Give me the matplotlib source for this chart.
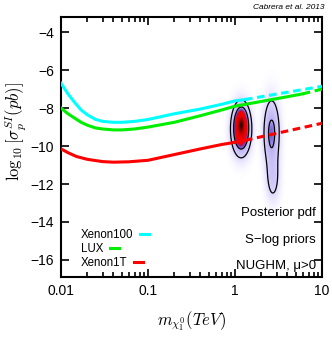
import matplotlib

matplotlib.use("Agg")
import matplotlib.pyplot as plt
import numpy as np
from matplotlib.colors import LinearSegmentedColormap

#####################################################
# PARAMETERS
#####################################################

plt.rcParams["font.family"] = ["Liberation Sans", "DejaVu Sans"]
plt.rcParams["mathtext.fontset"] = "cm"

# direct detection limits (mass in TeV, log10 sigma in pb)
xenon100_mass = [0.01, 0.012, 0.014, 0.017, 0.02, 0.025, 0.03, 0.04, 0.05, 0.07,
                 0.1, 0.2, 0.4, 0.7, 1.0, 1.3]
xenon100_sig = [-6.7, -7.25, -7.65, -8.1, -8.35, -8.6, -8.7, -8.75, -8.75, -8.7,
                -8.6, -8.3, -8.05, -7.8, -7.62, -7.55]
xenon100_proj_mass = [1.3, 10.0]
xenon100_proj_sig = [-7.55, -6.85]

lux_mass = [0.01, 0.012, 0.014, 0.017, 0.02, 0.025, 0.03, 0.04, 0.05, 0.07,
            0.1, 0.2, 0.4, 0.7, 1.0, 2.0, 4.0, 6.0]
lux_sig = [-8.0, -8.3, -8.5, -8.75, -8.9, -9.05, -9.1, -9.15, -9.15, -9.1,
           -9.0, -8.75, -8.4, -8.1, -7.9, -7.65, -7.4, -7.25]
lux_proj_mass = [6.0, 10.0]
lux_proj_sig = [-7.25, -7.0]

xenon1t_mass = [0.01, 0.012, 0.015, 0.02, 0.03, 0.04, 0.06, 0.1, 0.2, 0.4,
                0.7, 1.0, 1.3]
xenon1t_sig = [-10.15, -10.35, -10.55, -10.7, -10.82, -10.85, -10.83, -10.75,
               -10.45, -10.15, -9.92, -9.8, -9.7]
xenon1t_proj_mass = [1.3, 10.0]
xenon1t_proj_sig = [-9.7, -8.8]

# posterior pdf, described as gaussian lumps in (log10 m, log10 sigma)
blob_logm = [0.07, 0.075, 0.42, 0.435]
blob_logsig = [-9.1, -8.7, -9.3, -11.7]
blob_wm = [0.063, 0.035, 0.057, 0.05]
blob_ws = [0.78, 0.4, 1.1, 0.8]
blob_amp = [0.75, 0.3, 0.36, 0.17]
contour_levels = [0.112, 0.3]

pdf_cmap = LinearSegmentedColormap.from_list(
    "pdf",
    [
        (0.0, "#ffffff"),
        (0.05, "#f0edff"),
        (0.12, "#dcd6fb"),
        (0.3, "#bdb1f2"),
        (0.36, "#7a60d8"),
        (0.42, "#b02070"),
        (0.48, "#ff0000"),
        (0.75, "#e00000"),
        (0.9, "#900000"),
        (1.0, "#200000"),
    ],
)

#####################################################
# FUNCTIONS
#####################################################


def posterior_grid():
    lm = np.linspace(-0.4, 0.8, 300)
    ls = np.linspace(-14.0, -6.0, 400)
    LM, LS = np.meshgrid(lm, ls)
    pdf = np.zeros_like(LM)
    for m0, s0, wm, ws, a in zip(blob_logm, blob_logsig, blob_wm, blob_ws, blob_amp):
        pdf += a * np.exp(-0.5 * ((LM - m0) / wm) ** 2 - 0.5 * ((LS - s0) / ws) ** 2)
    return 10**LM, LS, pdf


def plot_limits():
    fig = plt.figure(figsize=(3.32, 3.38), dpi=100)
    ax = fig.add_axes([0.184, 0.1805, 0.786, 0.7692])

    M, S, pdf = posterior_grid()
    ax.pcolormesh(M, S, pdf, cmap=pdf_cmap, vmin=0, vmax=1, shading="gouraud", zorder=1)
    ax.contour(M, S, pdf, levels=contour_levels, colors="black", linewidths=0.9, zorder=2)

    lw = 2.2
    dash = (0, (2.5, 1.5))
    ax.plot(xenon100_mass, xenon100_sig, color="#00ffff", lw=lw, label="Xenon100", zorder=3)
    ax.plot(xenon100_proj_mass, xenon100_proj_sig, color="#00ffff", lw=lw, ls=dash, zorder=3)
    ax.plot(lux_mass, lux_sig, color="#00ee00", lw=lw, label="LUX", zorder=3)
    ax.plot(lux_proj_mass, lux_proj_sig, color="#00ee00", lw=lw, ls=dash, zorder=3)
    ax.plot(xenon1t_mass, xenon1t_sig, color="#ff0000", lw=lw, label="Xenon1T", zorder=3)
    ax.plot(xenon1t_proj_mass, xenon1t_proj_sig, color="#ff0000", lw=lw, ls=dash, zorder=3)

    # format axes
    ax.set_xscale("log")
    ax.set_xlim(0.01, 10)
    ax.set_ylim(-16.9, -3.2)
    ax.set_yticks([-16, -14, -12, -10, -8, -6, -4])
    ax.set_xticks([0.01, 0.1, 1, 10])
    ax.set_xticklabels(["0.01", "0.1", "1", "10"])
    ax.tick_params(which="both", direction="in", top=True, right=True, labelsize=10, width=1.2)
    ax.tick_params(which="major", length=6, pad=5)
    ax.tick_params(which="minor", length=3.5)
    ax.tick_params(axis="y", which="minor", left=False, right=False)
    for sp in ax.spines.values():
        sp.set_linewidth(1.5)

    ax.set_xlabel(r"$m_{\chi_1^0}(TeV)$", fontsize=12, labelpad=8)
    ax.set_ylabel(r"$\log_{10}[\sigma_p^{SI}(pb)]$", fontsize=12)
    ax.yaxis.set_label_coords(-0.125, 0.56)

    # legend, text first and left aligned
    leg = ax.legend(
        loc="lower left",
        bbox_to_anchor=(0.035, -0.01),
        frameon=False,
        markerfirst=False,
        fontsize=8.3,
        handlelength=0.8,
        handletextpad=0.6,
        labelspacing=0.2,
    )
    for col in leg._legend_handle_box.get_children():
        col.align = "left"

    # annotations
    ax.text(0.977, 0.246, "Posterior pdf", transform=ax.transAxes, ha="right", va="center", fontsize=9.5)
    ax.text(0.977, 0.142, "S\u2212log priors", transform=ax.transAxes, ha="right", va="center", fontsize=9.5)
    ax.text(0.977, 0.042, "NUGHM, \u03bc>0", transform=ax.transAxes, ha="right", va="center", fontsize=9.5)
    fig.text(0.977, 0.978, "Cabrera et al. 2013", ha="right", va="center", fontsize=6, style="italic")

    fig.savefig("out.png", dpi=100)
    plt.close()


#####################################################
# SCRIPT
#####################################################

if __name__ == "__main__":

    plot_limits()
